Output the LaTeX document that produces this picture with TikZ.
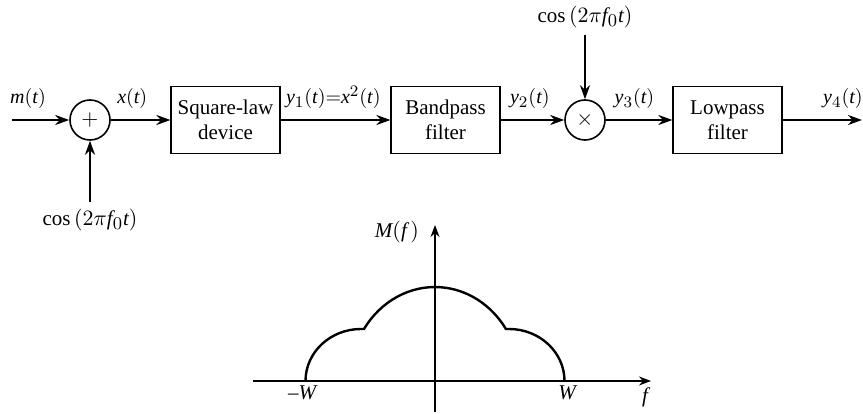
\documentclass[tikz,border=0pt]{standalone}
\usepackage{amsmath}
\usepackage{fontspec}
\setmainfont{Liberation Serif}
\usepackage[italic]{mathastext}
\usetikzlibrary{arrows.meta}

\begin{document}
\begin{tikzpicture}[x=0.5pt, y=0.5pt, font=\fontsize{10.5}{12.5}\selectfont]
  % Define styles
  \tikzstyle{block} = [rectangle, draw, line width=0.6pt, align=center, minimum width=54.5pt, minimum height=33.5pt, inner sep=1pt]
  \tikzstyle{junction} = [circle, draw, line width=0.8pt, minimum size=20pt, inner sep=0pt]
  \tikzstyle{signal} = [line width=1.2pt, -{Stealth[length=7pt, width=5pt]}]
  \tikzstyle{axis} = [line width=0.7pt, -{Stealth[length=6pt, width=4.5pt]}]
  \tikzstyle{sig} = [above, yshift=3pt, inner sep=2pt, font=\fontsize{10}{12}\selectfont]

  \useasboundingbox (0,0) rectangle (863,413);

  % Message input and adder
  \coordinate (input) at (12,293);
  \node[junction] (adder) at (90,293) {$+$};
  \node (carrierA) at (90,193) {$\cos\,(2\pi f_0 t)$};

  % Square-law device
  \node[block] (square) at (225.5,293) {Square-law\\device};

  % Bandpass filter
  \node[block] (bandpass) at (445.5,293) {Bandpass\\filter};

  % Multiplier
  \node[junction] (mixer) at (585,293) {$\times$};
  \node (carrierB) at (585,396) {$\cos\,(2\pi f_0 t)$};

  % Lowpass filter
  \node[block] (lowpass) at (727.5,293) {Lowpass\\filter};
  \coordinate (output) at (862,293);

  % Arrows
  \draw[signal] (input) -- node[sig, pos=0.28] {$m(t)$} (adder);
  \draw[signal] (carrierA.north) -- (adder);
  \draw[signal] (adder) -- node[sig, pos=0.36] {$x(t)$} (square);
  \draw[signal] (square) -- node[sig, pos=0.48] {$y_1(t){=}x^2(t)$} (bandpass);
  \draw[signal] (bandpass) -- node[sig, pos=0.46] {$y_2(t)$} (mixer);
  \draw[signal] (carrierB.south) -- (mixer);
  \draw[signal] (mixer) -- node[sig, pos=0.43] {$y_3(t)$} (lowpass);
  \draw[signal] (lowpass) -- node[sig, pos=0.76] {$y_4(t)$} (output);

  % Message spectrum
  \draw[axis] (253,32) -- (651,32);
  \draw[axis] (435,1) -- (435,188);
  \draw[line width=1.2pt] (305.5,32) arc[start angle=180, end angle=90, x radius=55.5, y radius=52]
    -- (364,84) arc[start angle=146.4, end angle=33.6, x radius=85.2, y radius=94]
    -- (509,84) arc[start angle=90, end angle=0, x radius=55.5, y radius=52];

  % Spectrum labels
  \node (negW) at (302,20) {$-W$};
  \node (posW) at (567,20) {$W$};
  \node (freq) at (645,16) {$f$};
  \node (spec) at (397,181) {$M(f\,)$};
\end{tikzpicture}
\end{document}
